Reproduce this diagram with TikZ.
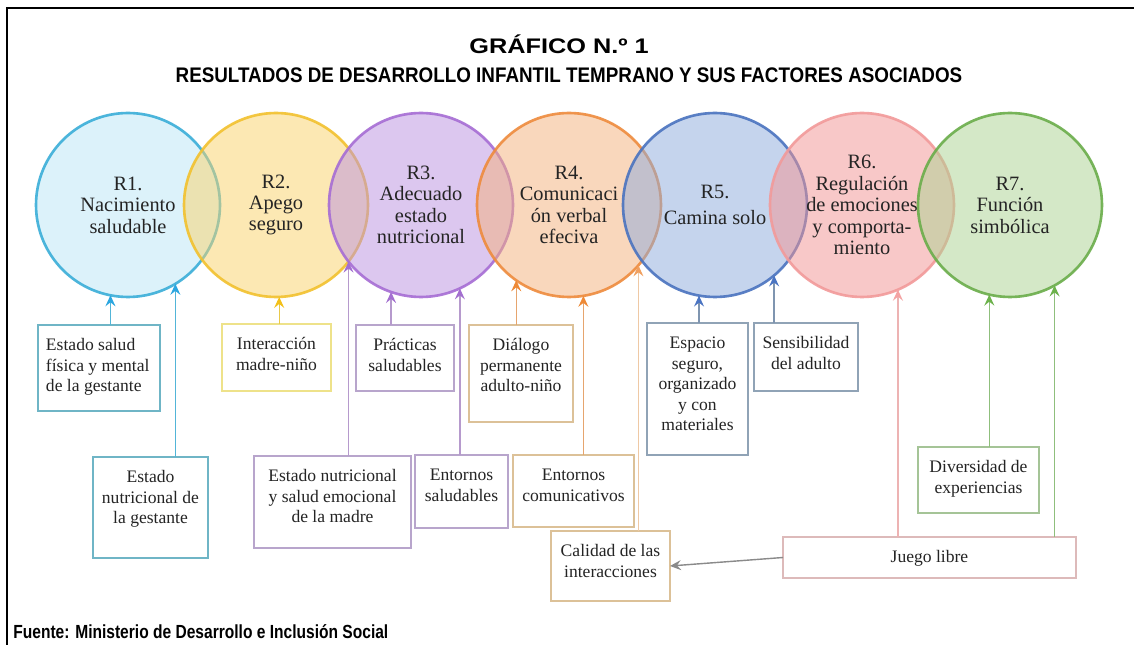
\documentclass[tikz,border=0pt]{standalone}
\usepackage{fontspec}
\setmainfont{Liberation Serif}
\newfontfamily\titlefont{Liberation Sans}
\usetikzlibrary{arrows.meta}
\newlength\pxu \setlength\pxu{0.02cm}
\newcommand\bxc[3]{\parbox[c][#2\pxu][t]{#1\pxu}{\fontsize{10}{11.65}\selectfont\centering\rule{0pt}{0.52cm}#3}}
\newcommand\bxl[3]{\parbox[c][#2\pxu][t]{#1\pxu}{\fontsize{10}{11.65}\selectfont\raggedright\leftskip=8\pxu\rule{0pt}{0.52cm}#3}}
\definecolor{txt}{HTML}{242424}
\definecolor{c1f}{HTML}{BBE7F7}\definecolor{c1d}{HTML}{3AAED8}
\definecolor{c2f}{HTML}{FBD369}\definecolor{c2d}{HTML}{F2C12E}
\definecolor{c3f}{HTML}{BB91E1}\definecolor{c3d}{HTML}{A66DD4}
\definecolor{c4f}{HTML}{F5B17B}\definecolor{c4d}{HTML}{EE8B3D}
\definecolor{c5f}{HTML}{8DABDD}\definecolor{c5d}{HTML}{4A73BF}
\definecolor{c6f}{HTML}{F39393}\definecolor{c6d}{HTML}{F29A9A}
\definecolor{c7f}{HTML}{ABD391}\definecolor{c7d}{HTML}{6AAD4A}
\definecolor{l1}{HTML}{52B5D8}\definecolor{t1}{HTML}{2BA6E0}
\definecolor{l2}{HTML}{E9C94A}\definecolor{t2}{HTML}{F3C019}
\definecolor{l3}{HTML}{B69ACD}\definecolor{t3}{HTML}{A36FD0}
\definecolor{l4}{HTML}{E6A56E}\definecolor{t4}{HTML}{EE8936}
\definecolor{l4b}{HTML}{EFC9A5}\definecolor{t4b}{HTML}{F0A060}
\definecolor{l5}{HTML}{7F95B0}\definecolor{t5}{HTML}{4A74C2}
\definecolor{l6}{HTML}{EDB3B3}\definecolor{t6}{HTML}{F4A3A3}
\definecolor{l7}{HTML}{8FBF7C}\definecolor{t7}{HTML}{6CB24B}
\definecolor{k1}{HTML}{6FB5C6}
\definecolor{k2}{HTML}{EEE28A}
\definecolor{k3}{HTML}{B8A5CC}
\definecolor{k4}{HTML}{DCC198}
\definecolor{k5}{HTML}{90A3B6}
\definecolor{k6}{HTML}{DDBABA}
\definecolor{k7}{HTML}{A5C497}
\definecolor{gr}{HTML}{8A8A8A}
\tikzset{
  res/.style={circle, minimum size=3.68cm, inner sep=0pt, outer sep=0pt,
    line width=1.5pt, fill opacity=0.5, draw opacity=0.9, text opacity=1,
    align=center, text=txt, font=\fontsize{11.6}{12.2}\selectfont},
  box/.style={draw, line width=0.7pt, fill=white, inner sep=0pt, outer sep=0pt,
    text=txt, anchor=north west},
  con/.style={line width=0.8pt, draw=#1},
  tip/.style={-{Stealth[length=2.2mm, width=2mm, inset=0.8mm, color=#1]}},
  ttl/.style={inner sep=0pt, text=black, font=\titlefont\bfseries}
}
\begin{document}
\begin{tikzpicture}[x=0.02cm, y=-0.02cm]
\useasboundingbox (0,0) rectangle (1134,645);
\fill[white] (0,0) rectangle (1134,645);
\draw[line width=1.2pt] (7,645) -- (7,8) -- (1134,8);

% title
\node[ttl] (title1) at (559,44) {\fontsize{12}{14}\selectfont\scalebox{1.2}[1.0]{GRÁFICO N.º 1}};
\node[ttl] (title2) at (569,75) {\fontsize{12}{14}\selectfont\scalebox{0.893}[1.0]{RESULTADOS DE DESARROLLO INFANTIL TEMPRANO Y SUS FACTORES ASOCIADOS}};
\node[ttl, anchor=west] (fuente) at (13,632) {\fontsize{10.8}{12}\selectfont\scalebox{0.82}[1.0]{Fuente: Ministerio de Desarrollo e Inclusión Social}};

% circles
\node[res, fill=c1f, draw=c1d] (R1) at (128,205) {R1.\\Nacimiento\\saludable};
\node[res, fill=c2f, draw=c2d] (R2) at (276,205) {R2.\\Apego\\seguro};
\node[res, fill=c3f, draw=c3d] (R3) at (421,205) {R3.\\Adecuado\\estado\\nutricional};
\node[res, fill=c4f, draw=c4d] (R4) at (569,205) {R4.\\Comunicaci\\ón verbal\\efeciva};
\node[res, fill=c5f, draw=c5d] (R5) at (715,205) {R5.\\[3pt]Camina solo};
\node[res, fill=c6f, draw=c6d] (R6) at (862,205) {R6.\\Regulación\\de emociones\\y comporta-\\miento};
\node[res, fill=c7f, draw=c7d] (R7) at (1010,205) {R7.\\Función\\simbólica};

% boxes
\node[box, draw=k1] (b11) at (38,325) {\bxl{122}{86}{Estado salud\\física y mental\\de la gestante}};
\node[box, draw=k1] (b12) at (93,457) {\bxc{115}{101}{Estado\\nutricional de\\la gestante}};
\node[box, draw=k2] (b21) at (222,324) {\bxc{109}{67}{Interacción\\madre-niño}};
\node[box, draw=k3] (b31) at (356,325) {\bxc{98}{66}{Prácticas\\saludables}};
\node[box, draw=k3] (b32) at (254,456) {\bxc{157}{92}{Estado nutricional\\y salud emocional\\de la madre}};
\node[box, draw=k3] (b33) at (415,455) {\bxc{93}{73}{Entornos\\saludables}};
\node[box, draw=k4] (b41) at (469,325) {\bxc{104}{97}{Diálogo\\permanente\\adulto-niño}};
\node[box, draw=k4] (b42) at (513,455) {\bxc{121}{72}{Entornos\\comunicativos}};
\node[box, draw=k4] (b43) at (551,531) {\bxc{119}{70}{Calidad de las\\interacciones}};
\node[box, draw=k5] (b51) at (647,323) {\bxc{101}{132}{Espacio\\seguro,\\organizado\\y con\\materiales}};
\node[box, draw=k5] (b52) at (754,323) {\bxc{104}{68}{Sensibilidad\\del adulto}};
\node[box, draw=k7] (b71) at (918,447) {\bxc{121}{66}{Diversidad de\\experiencias}};
\node[box, draw=k6] (jl) at (783,537) {\bxc{293}{41}{Juego libre}};

% connectors
\draw[con=l1, tip=t1] (b11.north -| R1.-101.3) -- (R1.-101.3);
\draw[con=l1, tip=t1] (b12.north -| R1.-59.3) -- (R1.-59.3);
\draw[con=l2, tip=t2] (b21.north -| R2.-88.8) -- (R2.-88.8);
\draw[con=l3, tip=t3] (b31.north -| R3.-109) -- (R3.-109);
\draw[con=l3, tip=t3] (b32.north -| R3.-142.5) -- (R3.-142.5);
\draw[con=l3, tip=t3] (b33.north -| R3.-65.6) -- (R3.-65.6);
\draw[con=l4, tip=t4] (b41.north -| R4.-125.2) -- (R4.-125.2);
\draw[con=l4, tip=t4] (b42.north -| R4.-81.2) -- (R4.-81.2);
\draw[con=l4b, tip=t4b] (b43.north -| R4.-41.4) -- (R4.-41.4);
\draw[con=l5, tip=t5] (b51.north -| R5.-100) -- (R5.-100);
\draw[con=l5, tip=t5] (b52.north -| R5.-50.9) -- (R5.-50.9);
\draw[con=l6, tip=t6] (jl.north -| R6.-67.6) -- (R6.-67.6);
\draw[con=l7, tip=t7] (b71.north -| R7.-103.2) -- (R7.-103.2);
\draw[con=l7, tip=t7] (jl.north -| R7.-61.4) -- (R7.-61.4);
\draw[con=gr, tip=gr] (jl.west) -- (b43.east);
\end{tikzpicture}
\end{document}
